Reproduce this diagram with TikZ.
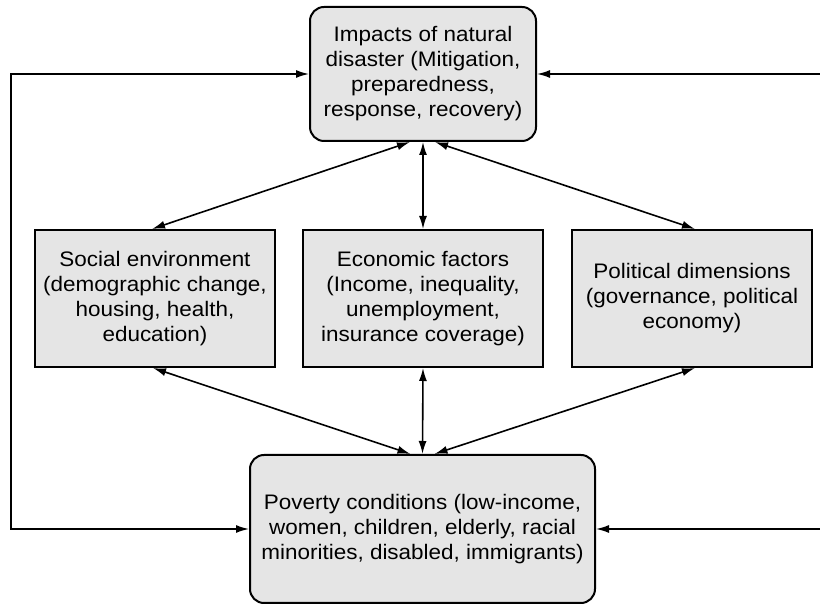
\documentclass[tikz,border=0pt]{standalone}
\usepackage{fontspec}
\setmainfont[FakeStretch=1.07]{Liberation Sans}
\usetikzlibrary{arrows.meta}
\tikzset{
  x=1pt,
  y=1pt,
  impactbox/.style={
    draw,
    line width=2pt,
    fill=black!10,
    rounded corners=14pt,
    align=center,
    inner sep=2pt,
    font=\fontsize{21}{25}\selectfont
  },
  factorbox/.style={
    draw,
    line width=2pt,
    fill=black!10,
    align=center,
    inner sep=2pt,
    minimum width=240pt,
    minimum height=137pt,
    font=\fontsize{21}{25}\selectfont
  },
  link/.style={
    line width=1.6pt,
    {Latex[length=13pt,width=8pt]}-{Latex[length=13pt,width=8pt]}
  },
  feedback/.style={
    line width=1.6pt,
    -{Latex[length=13pt,width=8pt]}
  }
}
\begin{document}
\begin{tikzpicture}
  \useasboundingbox (0,0) rectangle (820,605);
  \node[impactbox, minimum width=226pt, minimum height=134pt] (impacts) at (423,531)
    {Impacts of natural\\disaster (Mitigation,\\preparedness,\\response, recovery)};
  \node[factorbox] (social) at (155,306.5)
    {Social environment\\(demographic change,\\housing, health,\\education)};
  \node[factorbox] (economic) at (423,306.5)
    {Economic factors\\(Income, inequality,\\unemployment,\\insurance coverage)};
  \node[factorbox] (political) at (692,306.5)
    {Political dimensions\\(governance, political\\economy)};
  \node[impactbox, minimum width=345pt, minimum height=148pt] (poverty) at (422.5,76)
    {Poverty conditions (low-income,\\women, children, elderly, racial\\minorities, disabled, immigrants)};
  \coordinate (rtop) at (820,531);
  \coordinate (rbot) at (820,76);

  % links between the top box and the factors
  \draw[link] ([xshift=-13pt]impacts.south) -- ([xshift=-3pt]social.north);
  \draw[link] (impacts.south) -- (economic.north);
  \draw[link] ([xshift=12pt]impacts.south) -- ([xshift=3pt]political.north);

  % links between the factors and poverty
  \draw[link] ([xshift=-2pt]social.south) -- ([xshift=-12pt]poverty.north);
  \draw[link] (economic.south) -- (poverty.north);
  \draw[link] ([xshift=3pt]political.south) -- ([xshift=12pt]poverty.north);

  % feedback loops
  \draw[link] (poverty.west) -- ++(-238,0) |- (impacts.west);
  \draw[feedback] (rtop) -- (impacts.east);
  \draw[feedback] (rbot) -- (poverty.east);
\end{tikzpicture}
\end{document}
